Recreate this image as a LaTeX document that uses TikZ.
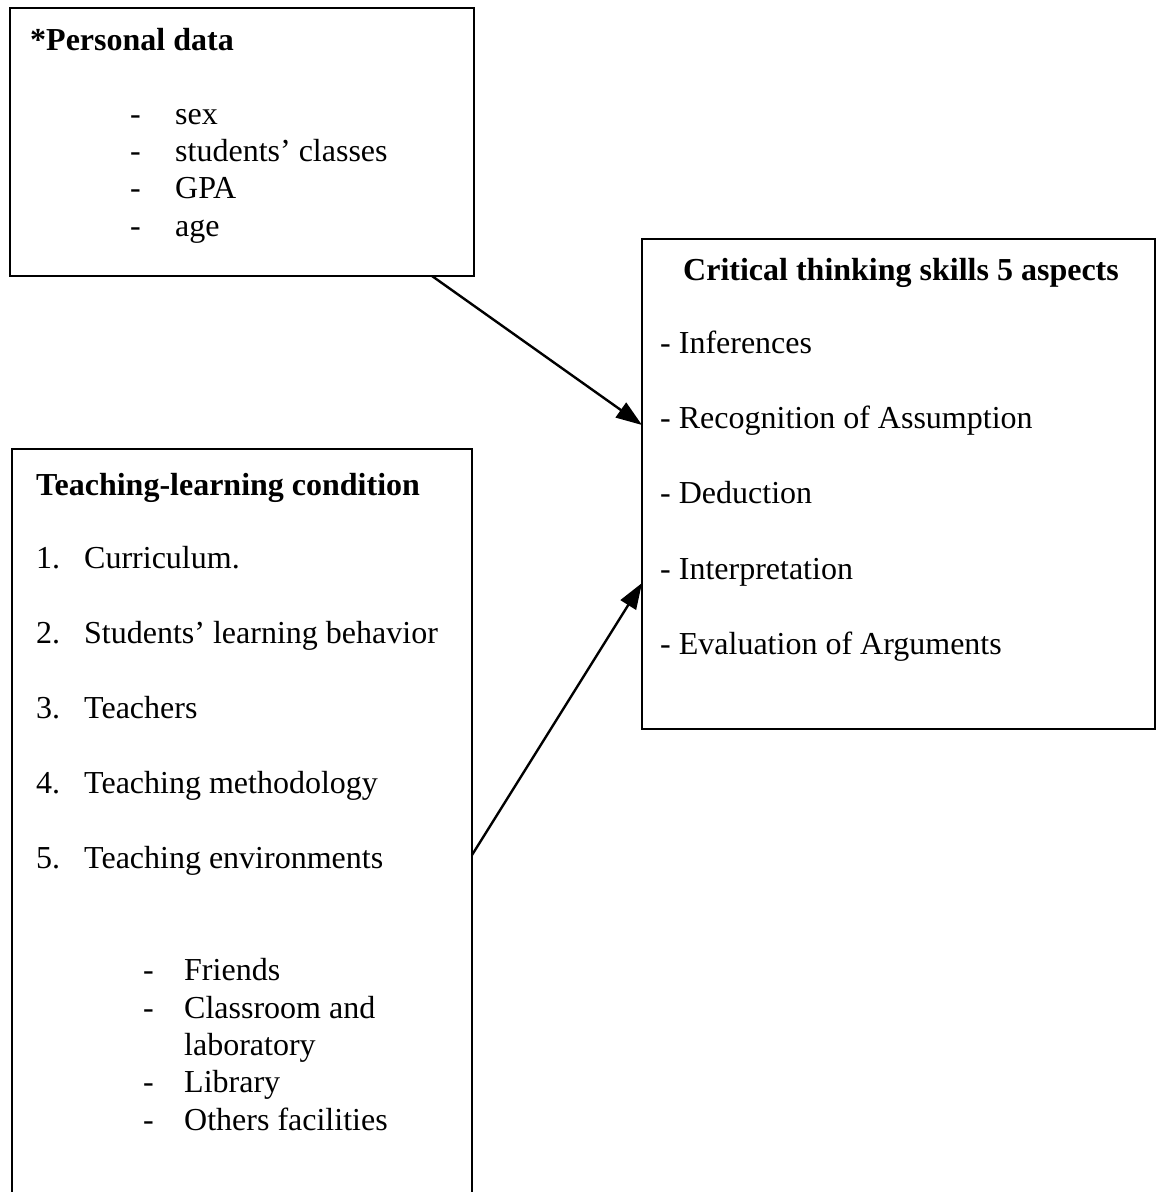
\documentclass[tikz,border=0pt]{standalone}
\usepackage{fontspec}
\setmainfont{Liberation Serif}
\usetikzlibrary{arrows.meta}
\begin{document}
\begin{tikzpicture}[x=1pt,y=-1pt,
  box/.style={draw=black,line width=2.4pt,rectangle,inner sep=0pt,outer sep=0pt},
  txt/.style={anchor=base west,inner sep=0pt,font=\fontsize{32}{38}\selectfont},
  ttl/.style={txt,font=\fontsize{32}{38}\selectfont\bfseries},
  conn/.style={line width=2.4pt,-{Triangle[length=26pt,width=18pt]}}]
\useasboundingbox (0,0) rectangle (1157,1192);
\clip (0,0) rectangle (1157,1192);
\fill[white] (0,0) rectangle (1157,1192);
% boxes
\node[box,minimum width=464pt,minimum height=268pt] (pd) at (242,142) {};
\node[box,minimum width=513pt,minimum height=490pt] (ct) at (898.5,484) {};
\node[box,minimum width=460pt,minimum height=801pt] (tl) at (242,849.5) {};
% personal data
\node[ttl] (pdt) at (30,50) {*Personal data};
\node[txt] (pd1d) at (130,124) {-};
\node[txt] (pd1) at (175,124) {sex};
\node[txt] (pd2d) at (130,161) {-};
\node[txt] (pd2) at (175,161) {students’ classes};
\node[txt] (pd3d) at (130,198) {-};
\node[txt] (pd3) at (175,198) {GPA};
\node[txt] (pd4d) at (130,236) {-};
\node[txt] (pd4) at (175,236) {age};
% critical thinking
\node[ttl] (ctt) at (683,280) {Critical thinking skills 5 aspects};
\node[txt] (ct1) at (660,353) {- Inferences};
\node[txt] (ct2) at (660,428) {- Recognition of Assumption};
\node[txt] (ct3) at (660,503) {- Deduction};
\node[txt] (ct4) at (660,579) {- Interpretation};
\node[txt] (ct5) at (660,654) {- Evaluation of Arguments};
% teaching learning
\node[ttl] (tlt) at (36,495) {Teaching-learning condition};
\node[txt] (tl1n) at (36,568) {1.};
\node[txt] (tl1) at (84,568) {Curriculum.};
\node[txt] (tl2n) at (36,643) {2.};
\node[txt] (tl2) at (84,643) {Students’ learning behavior};
\node[txt] (tl3n) at (36,718) {3.};
\node[txt] (tl3) at (84,718) {Teachers};
\node[txt] (tl4n) at (36,793) {4.};
\node[txt] (tl4) at (84,793) {Teaching methodology};
\node[txt] (tl5n) at (36,868) {5.};
\node[txt] (tl5) at (84,868) {Teaching environments};
\node[txt] (s1d) at (143,980) {-};
\node[txt] (s1) at (184,980) {Friends};
\node[txt] (s2d) at (143,1018) {-};
\node[txt] (s2) at (184,1018) {Classroom and};
\node[txt] (s2b) at (184,1055) {laboratory};
\node[txt] (s3d) at (143,1092) {-};
\node[txt] (s3) at (184,1092) {Library};
\node[txt] (s4d) at (143,1130) {-};
\node[txt] (s4) at (184,1130) {Others facilities};
% connectors
\draw[conn] ([xshift=-42pt]pd.south east) -- ([yshift=59pt]ct.west);
\draw[conn] ([yshift=-5.5pt]tl.east) -- ([yshift=-99pt]ct.west);
\end{tikzpicture}
\end{document}
